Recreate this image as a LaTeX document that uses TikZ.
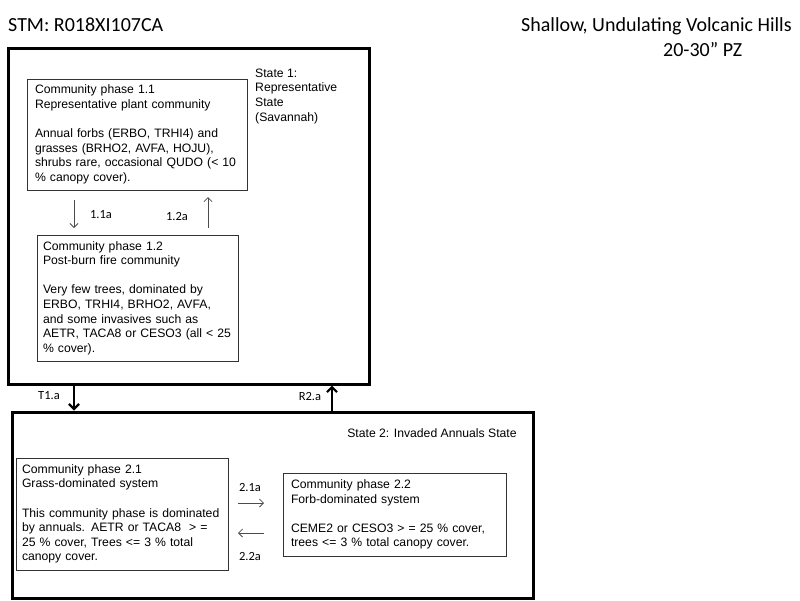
\documentclass[tikz,border=0pt]{standalone}
\usepackage{fontspec}
\setmainfont{Liberation Sans}
\newfontfamily\calibri{Carlito}
\usetikzlibrary{arrows.meta,positioning}

\newcommand{\boxfont}{\fontsize{12.2}{14.6}\selectfont}
\newcommand{\gap}{14.6pt}

\tikzset{
  statebox/.style={draw, line width=3pt, anchor=north west, inner sep=0pt, outer sep=0pt},
  phasebox/.style={draw=black!80, line width=0.8pt, anchor=north west, align=left,
    font=\boxfont, inner ysep=3pt, outer sep=0pt},
  phasearrow/.style={draw=black!70, line width=0.8pt, -{Straight Barb[length=4pt,width=8pt]}},
  statearrow/.style={line width=2.2pt, -{Straight Barb[length=5pt,width=10pt]},
    shorten <=1.5pt, shorten >=1.5pt},
  lbl/.style={font=\calibri\fontsize{12.5}{14}\selectfont, inner sep=0pt}
}

\begin{document}
\begin{tikzpicture}[x=1pt,y=-1pt]
\useasboundingbox (0,0) rectangle (800,600);

% Titles
\node[anchor=base west, inner sep=0pt, font=\calibri\fontsize{20}{24}\selectfont] (stm) at (8,31.5) {STM: R018XI107CA};
\node[anchor=base west, inner sep=0pt, font=\calibri\fontsize{20}{24}\selectfont] (site) at (521,31.5) {Shallow, Undulating Volcanic Hills};
\node[anchor=base west, inner sep=0pt, font=\calibri\fontsize{20}{24}\selectfont] (pz) at (663,56) {20-30” PZ};

% State boxes
\node[statebox, minimum width=361pt, minimum height=336pt] (s1) at (8,48) {};
\node[statebox, minimum width=521pt, minimum height=186pt] (s2) at (12,412) {};
\node[anchor=north west, align=left, inner sep=0pt, font=\boxfont] (s1lbl) at (255,68.5)
  {State 1:\\Representative\\State\\(Savannah)};
\node[inner sep=0pt, font=\boxfont] (s2lbl) at (432,433) {State 2: Invaded Annuals State};

% Community phases
\node[phasebox, text width=204pt, inner xsep=8pt, minimum height=111pt] (p11) at (27,79)
  {Community phase 1.1\\Representative plant community\\[\gap]Annual forbs (ERBO, TRHI4) and\\grasses (BRHO2, AVFA, HOJU),\\shrubs rare, occasional QUDO (< 10\\\% canopy cover).};
\node[phasebox, text width=189pt, inner xsep=6pt, minimum height=126pt] (p12) at (37,235)
  {Community phase 1.2\\Post-burn fire community\\[\gap]Very few trees, dominated by\\ERBO, TRHI4, BRHO2, AVFA,\\and some invasives such as\\AETR, TACA8 or CESO3 (all < 25\\\% cover).};
\node[phasebox, text width=200pt, inner xsep=6pt, minimum height=112pt] (p21) at (16,458)
  {Community phase 2.1\\Grass-dominated system\\[\gap]This community phase is dominated\\by annuals. AETR or TACA8~~> =\\25 \% cover, Trees <= 3 \% total\\canopy cover.};
\node[phasebox, text width=207pt, inner xsep=8pt, minimum height=83pt] (p22) at (283,473)
  {Community phase 2.2\\Forb-dominated system\\[\gap]CEME2 or CESO3 > = 25 \% cover,\\trees <= 3 \% total canopy cover.};

% Pathways
\coordinate (c11) at (74,0);
\coordinate (c12) at (208,0);
\coordinate (c21) at (0,503);
\coordinate (c22) at (0,533);
\draw[phasearrow] ([yshift=-10pt]p11.south -| c11) -- ([yshift=7pt]p12.north -| c11);
\draw[phasearrow] ([yshift=7pt]p12.north -| c12) -- ([yshift=-7pt]p11.south -| c12);
\draw[phasearrow] ([xshift=10pt]p21.east |- c21) -- ([xshift=-19pt]p22.west |- c21);
\draw[phasearrow] ([xshift=-19pt]p22.west |- c22) -- ([xshift=10pt]p21.east |- c22);
\node[lbl] (l11) at (101,215) {1.1a};
\node[lbl] (l12) at (177,216) {1.2a};
\node[lbl] (l21) at (250,487) {2.1a};
\node[lbl] (l22) at (250,556) {2.2a};

% Transitions
\coordinate (t1) at (74,0);
\coordinate (r2) at (332,0);
\draw[statearrow] (s1.south -| t1) -- (s2.north -| t1);
\draw[statearrow] (s2.north -| r2) -- (s1.south -| r2);
\node[lbl] (lt1) at (49,396) {T1.a};
\node[lbl] (lr2) at (310,396) {R2.a};
\end{tikzpicture}
\end{document}
